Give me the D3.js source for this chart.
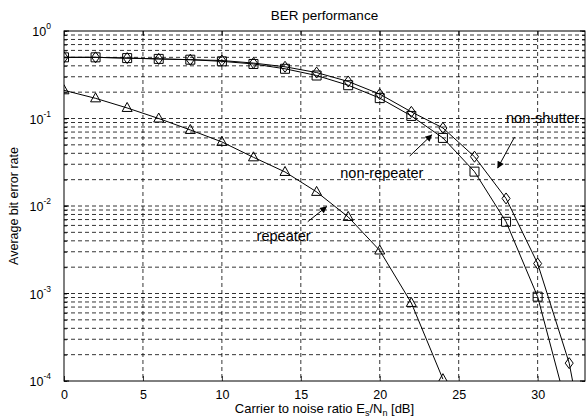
<!DOCTYPE html>
<html>
<head>
<meta charset="utf-8">
<script src="https://cdn.jsdelivr.net/npm/d3@7"></script>
<style>
  html, body { margin: 0; padding: 0; background: #fff; }
  svg text { font-family: "Liberation Sans", Arial, Helvetica, sans-serif; fill: #000; }
</style>
</head>
<body>
<svg id="chart" width="588" height="419"></svg>
<script>
// ---- data ----
const xRepeater = [0, 2, 4, 6, 8, 10, 12, 14, 16, 18, 20, 22, 24];
const berRepeater = [0.21, 0.17, 0.132, 0.10, 0.074, 0.054, 0.036, 0.0245, 0.0145, 0.0075, 0.0031, 0.00078, 0.000105];

const xNonRepeater = [0, 2, 4, 6, 8, 10, 12, 14, 16, 18, 20, 22, 24, 26, 28, 30, 32];
const berNonRepeater = [0.50, 0.50, 0.49, 0.48, 0.47, 0.45, 0.42, 0.37, 0.31, 0.24, 0.171, 0.107, 0.060, 0.0247, 0.0066, 0.00092, 0.00004];

const xNonShutter = [0, 2, 4, 6, 8, 10, 12, 14, 16, 18, 20, 22, 24, 26, 28, 30, 32, 34];
const berNonShutter = [0.50, 0.50, 0.49, 0.48, 0.47, 0.46, 0.43, 0.39, 0.335, 0.265, 0.19, 0.119, 0.078, 0.0366, 0.0122, 0.0022, 0.00016, 0.000002];

const xTickValues = [0, 5, 10, 15, 20, 25, 30];
const yTickExponents = [0, -1, -2, -3, -4];

const titleText = "BER performance";
const yLabelText = "Average bit error rate";

// annotations: label, text anchor point (data), arrow from / to (data)
const annotations = [
  { label: "non-shutter", tx: 28.0, ty: 0.089, from: [28.54, 0.0615], to: [27.47, 0.0272] },
  { label: "non-repeater", tx: 17.5, ty: 0.0209, from: [21.9, 0.0373], to: [23.29, 0.0648] },
  { label: "repeater", tx: 12.2, ty: 0.00398, from: [15.44, 0.00662], to: [16.63, 0.00982] }
];

// ---- layout ----
const svg = d3.select("#chart");
const margin = { left: 64, right: 3, top: 31, bottom: 38 };
const W = 588, H = 419;
const x = d3.scaleLinear().domain([0, 33]).range([margin.left, W - margin.right]);
const y = d3.scaleLog().domain([1e-4, 1]).range([H - margin.bottom, margin.top]);

const x0 = x.range()[0], x1 = x.range()[1];
const yb = y.range()[0], yt = y.range()[1];

const defs = svg.append("defs");
defs.append("clipPath").attr("id", "clip")
  .append("rect").attr("x", x0).attr("y", yt).attr("width", x1 - x0).attr("height", yb - yt);

// grid
const gridG = svg.append("g").attr("stroke", "#000").attr("stroke-width", 0.8)
  .attr("stroke-dasharray", "4,3").attr("fill", "none");
const minorVals = [];
for (let e = -4; e < 0; e++) {
  for (let m = 1; m <= 9; m++) minorVals.push(m * Math.pow(10, e));
}
minorVals.push(1);
minorVals.forEach(v => {
  if (v <= 1e-4 || v >= 1) return;
  gridG.append("line").attr("x1", x0).attr("x2", x1).attr("y1", y(v)).attr("y2", y(v));
});
xTickValues.forEach(v => {
  if (v === 0) return;
  gridG.append("line").attr("x1", x(v)).attr("x2", x(v)).attr("y1", yt).attr("y2", yb);
});

// axes with inward ticks
const xAxisB = d3.axisBottom(x).tickValues(xTickValues).tickSize(-5).tickPadding(9).tickFormat(d3.format("d"));
const xAxisT = d3.axisTop(x).tickValues(xTickValues).tickSize(-5).tickFormat("");
const yAxisL = d3.axisLeft(y).tickValues(minorVals).tickSize(-3).tickFormat("");
const yAxisR = d3.axisRight(y).tickValues(minorVals).tickSize(-3).tickFormat("");

function styleAxis(g) {
  g.select(".domain").remove();
  g.selectAll(".tick line").attr("stroke", "#000").attr("stroke-width", 0.8);
  g.selectAll(".tick text").attr("font-size", 12.5).attr("font-family", "Liberation Sans, Arial, sans-serif");
}
svg.append("g").attr("transform", `translate(0,${yb})`).call(xAxisB).call(styleAxis);
svg.append("g").attr("transform", `translate(0,${yt})`).call(xAxisT).call(styleAxis);
svg.append("g").attr("transform", `translate(${x0},0)`).call(yAxisL).call(styleAxis);
svg.append("g").attr("transform", `translate(${x1},0)`).call(yAxisR).call(styleAxis);
// major y ticks (longer) and labels
yTickExponents.forEach(e => {
  const yy = y(Math.pow(10, e));
  svg.append("line").attr("x1", x0).attr("x2", x0 + 5).attr("y1", yy).attr("y2", yy).attr("stroke", "#000");
  svg.append("line").attr("x1", x1 - 5).attr("x2", x1).attr("y1", yy).attr("y2", yy).attr("stroke", "#000");
  const t = svg.append("text").attr("x", x0 - 13).attr("y", yy + 5).attr("text-anchor", "end").attr("font-size", 12.5);
  t.append("tspan").text("10");
  t.append("tspan").attr("dy", -7).attr("font-size", 8.5).text(String(e));
});

// box
svg.append("rect").attr("x", x0).attr("y", yt).attr("width", x1 - x0).attr("height", yb - yt)
  .attr("fill", "none").attr("stroke", "#000").attr("stroke-width", 1);

// series
const plotG = svg.append("g").attr("clip-path", "url(#clip)");
const line = d3.line().x(d => x(d[0])).y(d => y(d[1]));
const series = [
  { xs: xRepeater, ys: berRepeater, marker: "triangle" },
  { xs: xNonRepeater, ys: berNonRepeater, marker: "square" },
  { xs: xNonShutter, ys: berNonShutter, marker: "diamond" }
];
const markerPath = {
  triangle: "M0,-5.5 L5,3.5 L-5,3.5 Z",
  square: "M-4.5,-4.5 H4.5 V4.5 H-4.5 Z",
  diamond: "M0,-5.5 L4,0 L0,5.5 L-4,0 Z"
};
series.forEach(s => {
  const pts = s.xs.map((v, i) => [v, s.ys[i]]);
  plotG.append("path").datum(pts).attr("d", line).attr("fill", "none").attr("stroke", "#000").attr("stroke-width", 1);
  plotG.selectAll(null).data(pts.filter(p => p[1] >= 1e-4 * 0.95)).enter().append("path")
    .attr("d", markerPath[s.marker])
    .attr("transform", d => `translate(${x(d[0])},${y(d[1])})`)
    .attr("fill", "none").attr("stroke", "#000").attr("stroke-width", 1);
});

// annotations
defs.append("marker").attr("id", "arrow").attr("viewBox", "0 0 10 10")
  .attr("refX", 9).attr("refY", 5).attr("markerWidth", 9).attr("markerHeight", 7)
  .attr("markerUnits", "userSpaceOnUse").attr("orient", "auto")
  .append("path").attr("d", "M0,0 L10,5 L0,10 z").attr("fill", "#000");
annotations.forEach(a => {
  svg.append("line").attr("x1", x(a.from[0])).attr("y1", y(a.from[1]))
    .attr("x2", x(a.to[0])).attr("y2", y(a.to[1]))
    .attr("stroke", "#000").attr("stroke-width", 1).attr("marker-end", "url(#arrow)");
  svg.append("text").attr("x", x(a.tx)).attr("y", y(a.ty)).attr("font-size", 14.5).text(a.label);
});

// title and labels
svg.append("text").attr("x", (x0 + x1) / 2).attr("y", 20).attr("text-anchor", "middle")
  .attr("font-size", 13.5).text(titleText);
const xl = svg.append("text").attr("x", (x0 + x1) / 2).attr("y", 413).attr("text-anchor", "middle").attr("font-size", 13);
xl.append("tspan").text("Carrier to noise ratio E");
xl.append("tspan").attr("dy", 3).attr("font-size", 9).text("s");
xl.append("tspan").attr("dy", -3).text("/N");
xl.append("tspan").attr("dy", 3).attr("font-size", 9).text("n");
xl.append("tspan").attr("dy", -3).text(" [dB]");
svg.append("text").attr("transform", `translate(18,${(yt + yb) / 2}) rotate(-90)`)
  .attr("text-anchor", "middle").attr("font-size", 12.5).text(yLabelText);
</script>
</body>
</html>
